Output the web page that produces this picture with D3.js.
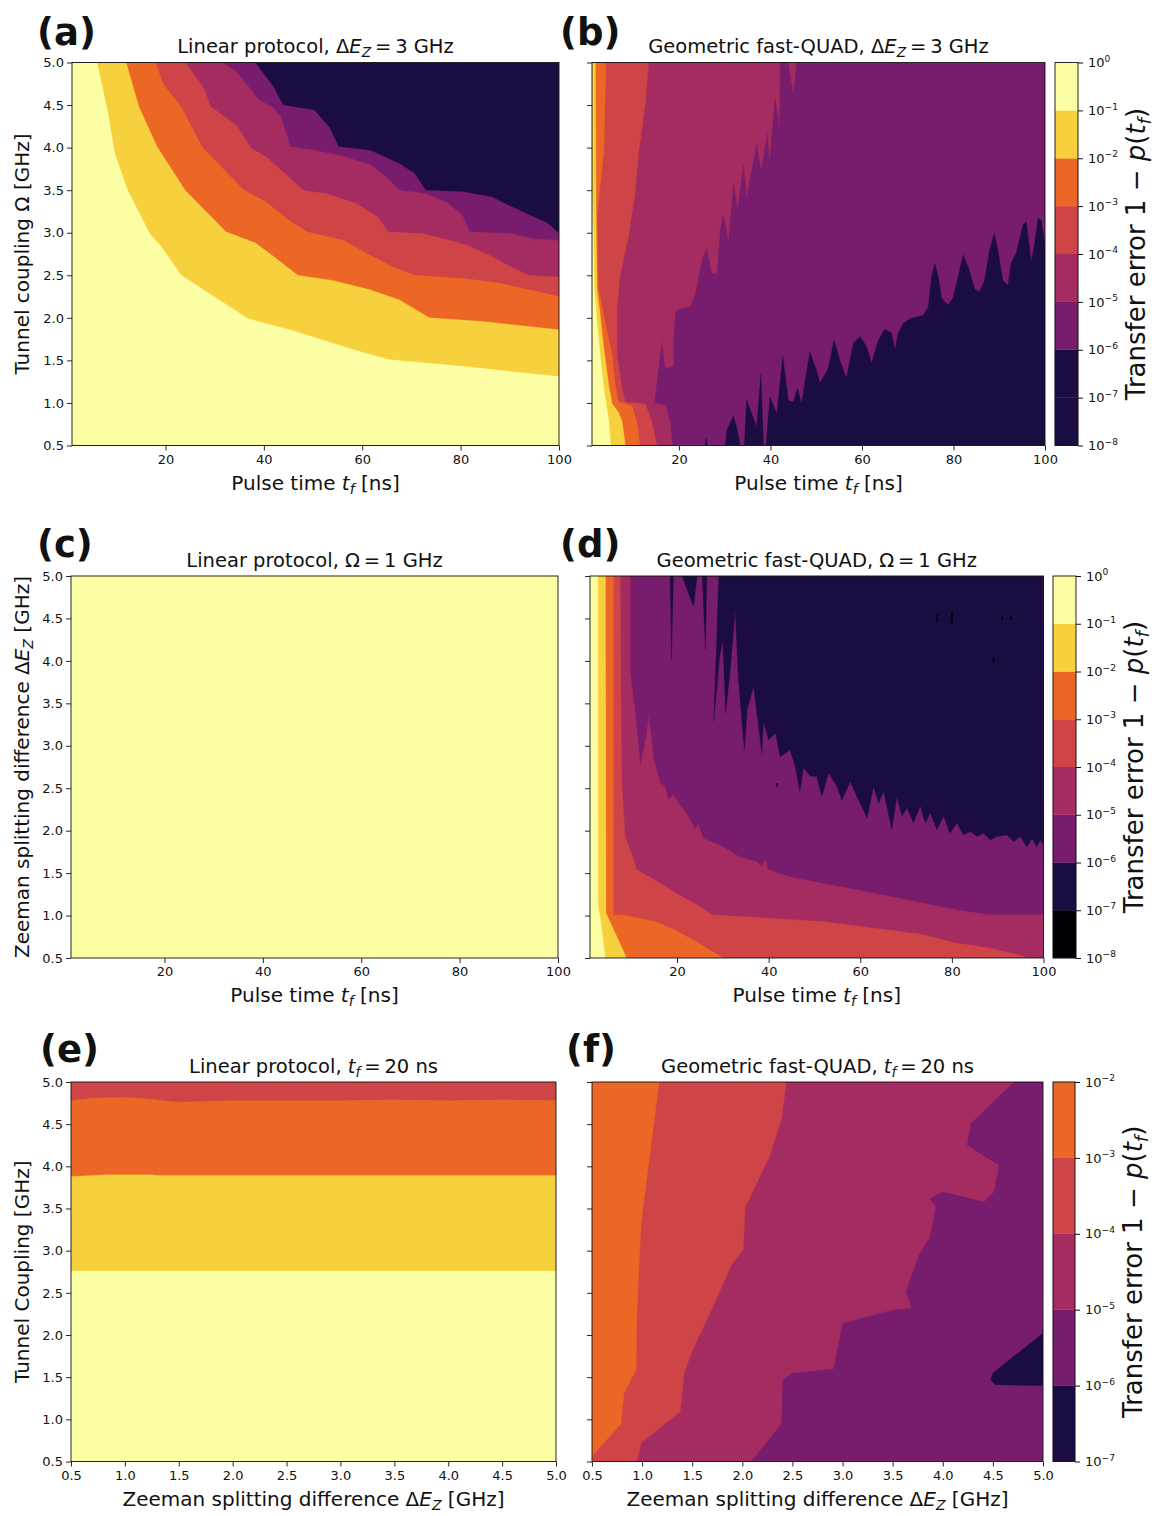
<!DOCTYPE html>
<html>
<head>
<meta charset="utf-8">
<script src="https://cdn.jsdelivr.net/npm/d3@7"></script>
<style>
body { margin: 0; background: #fff; }
text { font-family: "DejaVu Sans", sans-serif; fill: #111; }
</style>
</head>
<body>
<svg id="fig" width="1164" height="1516"></svg>
<script>
// ---- axis values ----
var pulseTicks = [20, 40, 60, 80, 100];
var gridTicks = [0.5, 1.0, 1.5, 2.0, 2.5, 3.0, 3.5, 4.0, 4.5, 5.0];
var decadesAll = [-8, -7, -6, -5, -4, -3, -2, -1, 0];
var decadesF = [-7, -6, -5, -4, -3, -2];

// ---- (a) linear protocol, dEz = 3 GHz : contour boundaries [t_f, Omega] ----
var aLevel1e6 = [[38.3,5.0],[42.0,4.71],[43.9,4.5],[50.3,4.44],[53.3,4.24],[55.2,4.01],[61.6,3.97],[67.6,3.81],[70.6,3.70],[72.9,3.5],[80.4,3.48],[86.4,3.42],[90.2,3.31],[94.7,3.19],[97.7,3.11],[100,2.99]];
var aLevel1e5 = [[31.5,5.0],[34.5,4.89],[39.0,4.56],[41.7,4.48],[43.5,4.36],[45.4,4.01],[50.3,3.97],[56.0,3.9],[61.6,3.8],[65.0,3.65],[67.5,3.5],[72.9,3.46],[77.4,3.35],[80.4,3.2],[81.9,3.01],[90.2,2.99],[94.7,2.93],[100,2.91]];
var aLevel1e4 = [[24.0,5.0],[27.7,4.71],[29.2,4.48],[34.5,4.26],[37.5,3.99],[40.5,3.89],[45.8,3.62],[48.0,3.5],[52.6,3.46],[58.6,3.35],[63.1,3.19],[65.3,3.01],[72.1,2.99],[78.1,2.91],[81.9,2.84],[86.4,2.72],[90.2,2.6],[93.9,2.5],[100,2.48]];
var aLevel1e3 = [[18.0,5.0],[19.5,4.75],[23.2,4.48],[27.4,4.01],[36.0,3.5],[40.5,3.36],[45.0,3.15],[48.8,3.01],[56.3,2.91],[60.8,2.76],[66.1,2.6],[70.6,2.5],[81.1,2.46],[87.9,2.41],[93.9,2.33],[100,2.25]];
var aLevel1e2 = [[12.0,5.0],[14.6,4.48],[18.3,4.01],[24.0,3.5],[32.3,3.01],[38.3,2.88],[42.0,2.72],[46.9,2.5],[54.0,2.44],[61.6,2.33],[67.6,2.21],[73.6,2.0],[84.1,1.96],[100,1.86]];
var aLevel1e1 = [[6.1,5.0],[8.2,4.44],[9.7,3.93],[12.3,3.5],[16.8,2.99],[19.1,2.84],[23.2,2.5],[36.8,1.99],[46.5,1.84],[58.6,1.62],[65.3,1.51],[80.4,1.43],[100,1.31]];

// ---- (b) geometric fast-QUAD, dEz = 3 GHz ----
var bBelow1e6 = [[25.7,0.5],[25.95,0.59],[26.25,0.5],[30.1,0.5],[30.5,0.68],[31.9,0.85],[32.6,0.72],[33.4,0.5],[34.3,0.5],[34.8,1.04],[35.9,0.87],[37.0,0.72],[37.9,1.34],[38.5,0.5],[39.0,0.5],[39.9,1.07],[41.4,0.87],[42.7,1.55],[43.9,1.03],[45.0,1.01],[45.9,1.17],[46.8,0.99],[48.6,1.60],[50.1,1.38],[50.8,1.23],[52.6,1.40],[53.9,1.74],[55.2,1.50],[56.6,1.29],[58.1,1.70],[59.6,1.78],[61.0,1.66],[62.1,1.47],[63.6,1.74],[65.0,1.87],[66.5,1.82],[67.2,1.62],[67.9,1.82],[69.0,1.93],[70.5,1.99],[73.4,2.03],[74.5,2.13],[75.2,2.48],[75.9,2.64],[76.7,2.48],[77.4,2.23],[78.8,2.15],[79.9,2.23],[81.0,2.48],[82.1,2.74],[83.2,2.60],[84.7,2.33],[85.7,2.31],[86.8,2.44],[87.9,2.80],[88.9,2.99],[89.7,2.80],[90.8,2.44],[91.9,2.38],[92.6,2.64],[93.7,2.76],[95.2,3.09],[95.9,3.13],[97.0,2.66],[97.7,2.86],[98.5,3.17],[99.2,3.15],[100,2.82]];
var bLevel1e5 = [[45.7,5.0],[45.0,4.64],[43.9,5.0],[42.1,5.0],[41.96,4.25],[41.0,4.60],[39.8,3.86],[39.3,4.19],[38.0,3.74],[37.0,4.05],[35.9,3.74],[34.8,3.43],[34.1,3.82],[32.8,3.29],[31.9,3.62],[31.55,3.35],[30.8,2.92],[29.7,3.23],[29.0,3.03],[28.3,2.52],[27.2,2.52],[26.1,2.82],[25.0,2.68],[23.6,2.29],[22.5,2.13],[20.3,2.11],[19.2,2.07],[18.8,1.76],[18.8,1.43],[17.0,1.41],[16.3,1.74],[15.4,1.35],[14.8,1.09],[14.6,1.0],[17.0,0.98],[18.1,0.78],[18.6,0.5]];
var bLevel1e4 = [[13.4,5.0],[12.65,4.51],[11.2,3.94],[10.4,3.46],[9.0,2.96],[7.2,2.51],[6.5,2.15],[6.5,1.56],[7.6,1.17],[8.3,1.01],[12.65,0.99],[14.1,0.78],[15.2,0.5]];
var bLevel1e3 = [[4.07,5.0],[3.6,3.95],[2.1,3.21],[2.43,2.35],[3.9,1.95],[5.4,1.56],[6.1,1.21],[6.8,1.01],[9.7,0.97],[10.8,0.78],[11.5,0.5]];
var bLevel1e2 = [[1.74,5.0],[1.9,3.2],[2.1,2.35],[2.8,2.03],[3.6,1.64],[4.65,1.21],[5.4,0.99],[6.8,0.89],[7.6,0.78],[8.3,0.5]];
var bLevel1e1 = [[1.0,3.45],[1.3,3.0],[1.5,2.35],[2.1,1.95],[2.8,1.56],[3.6,1.17],[4.1,0.99],[4.7,0.78],[5.1,0.5]];

// ---- (d) geometric fast-QUAD, Omega = 1 GHz : [t_f, dEz] ----
var dBelow1e6 = [[18.5,5.0],[18.8,4.01],[19.2,5.0],[21.1,5.0],[23.6,4.64],[24.4,5.0],[25.5,5.0],[26.2,4.13],[26.5,5.0],[29.1,5.0],[28.7,4.29],[28.0,3.29],[29.3,4.05],[30.0,4.25],[30.6,3.38],[31.6,3.89],[32.7,4.60],[33.4,3.78],[34.7,2.95],[35.3,3.42],[36.7,3.70],[37.8,3.23],[38.5,2.91],[38.9,3.29],[40.0,3.07],[41.5,3.15],[42.5,2.87],[44.7,2.95],[45.8,2.76],[46.8,2.46],[47.6,2.74],[49.1,2.64],[50.5,2.64],[51.6,2.40],[53.1,2.68],[54.9,2.52],[56.0,2.36],[57.8,2.58],[59.3,2.40],[61.5,2.15],[62.9,2.52],[64.0,2.32],[65.1,2.46],[66.9,2.01],[68.0,2.40],[69.1,2.17],[70.2,2.27],[71.6,2.09],[73.1,2.29],[74.2,2.09],[75.3,2.21],[76.7,2.01],[78.2,2.17],[79.6,1.97],[81.1,2.09],[82.5,1.95],[84.0,1.99],[85.5,1.93],[86.9,1.97],[88.4,1.89],[89.8,1.93],[92.0,1.95],[93.5,1.87],[94.9,1.93],[96.4,1.81],[97.5,1.91],[98.5,1.81],[99.3,1.89],[100,1.83]];
var dBelow1e7 = [[76.7,4.46,4.54],[80.0,4.44,4.58],[89.1,3.98,4.04],[91.0,4.48,4.52],[92.9,4.48,4.52],[41.8,2.52,2.56]];
var dLevel1e5 = [[9.8,5.0],[9.8,3.85],[10.9,3.38],[12.0,2.76],[13.4,3.15],[13.8,3.34],[14.5,3.06],[14.9,2.84],[16.4,2.56],[17.4,2.52],[18.1,2.36],[19.2,2.42],[20.3,2.33],[22.5,2.17],[23.9,2.01],[24.6,2.08],[25.7,1.91],[29.7,1.82],[33.4,1.70],[37.5,1.63],[38.5,1.58],[39.2,1.66],[39.9,1.54],[44.3,1.46],[51.6,1.38],[58.8,1.31],[66.1,1.23],[73.4,1.15],[80.6,1.07],[87.9,1.01],[100,1.01]];
var dLevel1e4 = [[7.6,5.0],[7.9,2.60],[8.65,1.93],[10.1,1.73],[11.2,1.54],[15.2,1.42],[19.6,1.27],[24.6,1.12],[27.6,1.01],[37.0,0.98],[51.6,0.93],[66.1,0.83],[73.4,0.78],[80.6,0.68],[87.9,0.62],[95.2,0.53],[96.5,0.5]];
var dLevel1e3 = [[6.1,5.0],[6.1,1.01],[7.9,1.01],[15.2,0.93],[19.6,0.83],[24.6,0.68],[30.1,0.5]];
var dLevel1e2 = [[4.4,5.0],[4.5,1.03],[9.0,0.5]];
var dLevel1e1 = [[2.7,5.0],[2.75,1.1],[3.3,0.95],[4.35,0.5]];

// ---- (e) linear protocol, t_f = 20 ns : [dEz, Omega] ----
var eLevel1e3 = [[0.5,4.78],[0.7,4.81],[1.0,4.82],[1.2,4.80],[1.5,4.76],[1.7,4.77],[2.0,4.78],[2.5,4.78],[3.0,4.78],[3.5,4.79],[4.0,4.78],[4.5,4.79],[5.0,4.78]];
var eLevel1e2 = [[0.5,3.88],[0.85,3.90],[1.25,3.90],[1.3,3.89],[5.0,3.89]];
var eLevel1e1 = [[0.5,2.76],[5.0,2.76]];

// ---- (f) geometric fast-QUAD, t_f = 20 ns : [dEz, Omega] ----
var fBelow1e6 = [[5.0,2.02],[4.5,1.55],[4.48,1.47],[4.52,1.41],[5.0,1.40]];
var fLevel1e5 = [[2.09,0.5],[2.39,0.95],[2.40,1.47],[2.50,1.55],[2.91,1.60],[3.0,2.14],[3.5,2.30],[3.69,2.32],[3.63,2.51],[3.76,2.95],[3.87,3.16],[3.93,3.52],[3.87,3.62],[4.0,3.70],[4.41,3.58],[4.51,3.70],[4.56,4.01],[4.24,4.25],[4.28,4.51],[4.71,5.0]];
var fLevel1e4 = [[0.95,0.5],[0.99,0.72],[1.38,1.09],[1.42,1.55],[1.49,1.78],[1.72,2.37],[1.90,2.85],[2.01,3.01],[2.03,3.52],[2.27,4.11],[2.39,4.55],[2.44,5.0]];
var fLevel1e3 = [[0.5,0.56],[0.79,0.95],[0.82,1.31],[0.94,1.59],[0.95,2.30],[0.99,3.32],[1.07,4.07],[1.17,5.0]];

// ---- colours (inferno steps) ----
var col = { black: "#000004", navy: "#1b0c41", purple: "#781c6d", magenta: "#a52c60",
            red: "#cf4446", orange: "#ec6726", yellow: "#f7d13d", pale: "#fbfea3" };

var svg = d3.select("#fig");
var tickFont = 13, labelFont = 20, titleFont = 19.5;
var EQ = "\u2009=\u2009";

// writes rich text: parts = [text, flags] ; flags: i = italic, s = subscript, p = superscript
function mathText(sel, parts, fs) {
    var shift = 0;
    parts.forEach(function(p) {
        var f = p[1] || "";
        var ts = sel.append("tspan").text(p[0]);
        var target = f.indexOf("s") >= 0 ? 0.22 * fs : (f.indexOf("p") >= 0 ? -0.42 * fs : 0);
        if (target !== shift) { ts.attr("dy", target - shift); shift = target; }
        if (f.indexOf("i") >= 0) ts.attr("font-style", "italic");
        if (target !== 0) ts.attr("font-size", 0.7 * fs);
    });
}

// closes a boundary into a region polygon using the plot border
function closeRegion(pts, side, xd, yd) {
    var out = pts.slice(), first = pts[0], last = pts[pts.length - 1];
    if (side === "lr") out.push([xd[1], yd[0]]);
    else if (side === "ur") out.push([xd[1], yd[1]]);
    else if (side === "ll") {
        if (last[0] >= xd[1]) out.push([xd[1], yd[0]]);
        if (last[1] >= yd[1]) { out.push([xd[0], yd[1]], [xd[0], yd[0]]); }
        else { out.push([xd[0], yd[0]]); if (first[1] >= yd[1]) out.push([xd[0], yd[1]]); }
    }
    return out;
}

var clipId = 0;
function panel(o) {
    var g = svg.append("g");
    var x = d3.scaleLinear().domain(o.xd).range([o.x0, o.x1]);
    var y = d3.scaleLinear().domain(o.yd).range([o.y1, o.y0]);
    var id = "clip" + (clipId++);
    g.append("clipPath").attr("id", id).append("rect")
        .attr("x", o.x0).attr("y", o.y0).attr("width", o.x1 - o.x0).attr("height", o.y1 - o.y0);
    var plot = g.append("g").attr("clip-path", "url(#" + id + ")");
    plot.append("rect")
        .attr("x", x(o.xd[0])).attr("y", y(o.yd[1]))
        .attr("width", x(o.xd[1]) - x(o.xd[0])).attr("height", y(o.yd[0]) - y(o.yd[1]))
        .attr("fill", o.base);
    var line = d3.line().x(function(d) { return x(d[0]); }).y(function(d) { return y(d[1]); });
    o.layers.forEach(function(L) {
        plot.append("path")
            .attr("d", line(closeRegion(L.pts, L.side, o.xd, o.yd)) + "Z")
            .attr("fill", L.color)
            .attr("stroke", L.color).attr("stroke-width", 0.3);
    });
    if (o.specks) {
        o.specks.forEach(function(s) {
            plot.append("line")
                .attr("x1", x(s[0])).attr("x2", x(s[0]))
                .attr("y1", y(s[1])).attr("y2", y(s[2]))
                .attr("stroke", col.black).attr("stroke-width", 1.6);
        });
    }

    // axes
    var xa = g.append("g").attr("transform", "translate(0," + o.y1 + ")")
        .call(d3.axisBottom(x).tickValues(o.xTicks).tickSize(5).tickPadding(4).tickFormat(d3.format(o.xFmt)));
    var ya = g.append("g").attr("transform", "translate(" + o.x0 + ",0)")
        .call(d3.axisLeft(y).tickValues(gridTicks).tickSize(5).tickPadding(3)
            .tickFormat(o.yLabels ? d3.format(".1f") : function() { return ""; }));
    [xa, ya].forEach(function(a) {
        a.select(".domain").remove();
        a.attr("font-size", tickFont).attr("font-family", "DejaVu Sans").attr("color", "#111");
        a.selectAll(".tick line").attr("stroke-width", 0.9);
    });
    g.append("rect")
        .attr("x", o.x0).attr("y", o.y0).attr("width", o.x1 - o.x0).attr("height", o.y1 - o.y0)
        .attr("fill", "none").attr("stroke", "#111").attr("stroke-width", 0.9);

    // texts
    var t = g.append("text").attr("x", (o.x0 + o.x1) / 2).attr("y", o.y0 - 9.5)
        .attr("text-anchor", "middle").attr("font-size", titleFont);
    mathText(t, o.title, titleFont);
    var xl = g.append("text").attr("x", (o.x0 + o.x1) / 2).attr("y", o.y1 + 44)
        .attr("text-anchor", "middle").attr("font-size", labelFont);
    mathText(xl, o.xLabel, labelFont);
    if (o.yLabel) {
        var yl = g.append("text")
            .attr("transform", "translate(29," + ((o.y0 + o.y1) / 2) + ") rotate(-90)")
            .attr("text-anchor", "middle").attr("font-size", labelFont);
        mathText(yl, o.yLabel, labelFont);
    }
    g.append("text").attr("x", o.tagX).attr("y", o.tagY)
        .attr("font-size", 37).attr("font-weight", "bold").attr("fill", "#000")
        .text(o.tag);
}

function colorbar(o) {
    var g = svg.append("g");
    var s = d3.scaleLinear().domain([o.levels[0], o.levels[o.levels.length - 1]]).range([o.y1, o.y0]);
    o.colors.forEach(function(c, i) {
        g.append("rect")
            .attr("x", o.x0).attr("width", o.x1 - o.x0)
            .attr("y", s(o.levels[i + 1])).attr("height", s(o.levels[i]) - s(o.levels[i + 1]))
            .attr("fill", c).attr("stroke", c).attr("stroke-width", 0.3);
    });
    g.append("rect")
        .attr("x", o.x0).attr("y", o.y0).attr("width", o.x1 - o.x0).attr("height", o.y1 - o.y0)
        .attr("fill", "none").attr("stroke", "#111").attr("stroke-width", 0.9);
    var ax = g.append("g").attr("transform", "translate(" + o.x1 + ",0)")
        .call(d3.axisRight(s).tickValues(o.levels).tickSize(5).tickPadding(5).tickFormat(function() { return ""; }));
    ax.select(".domain").remove();
    ax.attr("font-size", tickFont).attr("font-family", "DejaVu Sans").attr("color", "#111");
    ax.selectAll(".tick text").each(function(d) {
        var el = d3.select(this);
        mathText(el, [["10"], [d === 0 ? "0" : "\u2212" + (-d), "p"]], tickFont);
    });
    var lab = g.append("text")
        .attr("transform", "translate(" + (o.x1 + 67) + "," + ((o.y0 + o.y1) / 2) + ") rotate(-90)")
        .attr("text-anchor", "middle").attr("font-size", 26);
    mathText(lab, [["Transfer error 1 \u2212 "], ["p", "i"], ["("], ["t", "i"], ["f", "is"], [")"]], 26);
}

var pulseLabel = [["Pulse time "], ["t", "i"], ["f", "is"], [" [ns]"]];
var zeemanLabel = [["Zeeman splitting difference \u0394"], ["E", "i"], ["Z", "is"], [" [GHz]"]];

// (a)
panel({ x0: 72, x1: 559, y0: 62.5, y1: 445.5, xd: [1, 100], yd: [0.5, 5.0],
    xTicks: pulseTicks, xFmt: "d", yLabels: true, base: col.navy,
    layers: [
        { pts: aLevel1e6, side: "ll", color: col.purple },
        { pts: aLevel1e5, side: "ll", color: col.magenta },
        { pts: aLevel1e4, side: "ll", color: col.red },
        { pts: aLevel1e3, side: "ll", color: col.orange },
        { pts: aLevel1e2, side: "ll", color: col.yellow },
        { pts: aLevel1e1, side: "ll", color: col.pale }],
    title: [["Linear protocol, \u0394"], ["E", "i"], ["Z", "is"], [EQ + "3 GHz"]],
    xLabel: pulseLabel, yLabel: [["Tunnel coupling \u03a9 [GHz]"]],
    tag: "(a)", tagX: 37, tagY: 45 });

// (b)
panel({ x0: 592, x1: 1045, y0: 62.5, y1: 445.5, xd: [1, 100], yd: [0.5, 5.0],
    xTicks: pulseTicks, xFmt: "d", yLabels: false, base: col.purple,
    layers: [
        { pts: bBelow1e6, side: "lr", color: col.navy },
        { pts: bLevel1e5, side: "ll", color: col.magenta },
        { pts: bLevel1e4, side: "ll", color: col.red },
        { pts: bLevel1e3, side: "ll", color: col.orange },
        { pts: bLevel1e2, side: "ll", color: col.yellow },
        { pts: bLevel1e1, side: "ll", color: col.pale }],
    title: [["Geometric fast-QUAD, \u0394"], ["E", "i"], ["Z", "is"], [EQ + "3 GHz"]],
    xLabel: pulseLabel, tag: "(b)", tagX: 560, tagY: 45 });
colorbar({ x0: 1055, x1: 1078, y0: 62.5, y1: 445.5, levels: decadesAll,
    colors: [col.navy, col.navy, col.purple, col.magenta, col.red, col.orange, col.yellow, col.pale] });

// (c)
panel({ x0: 71, x1: 558, y0: 576, y1: 958, xd: [1, 100], yd: [0.5, 5.0],
    xTicks: pulseTicks, xFmt: "d", yLabels: true, base: col.pale, layers: [],
    title: [["Linear protocol, \u03a9" + EQ + "1 GHz"]],
    xLabel: pulseLabel, yLabel: zeemanLabel, tag: "(c)", tagX: 37, tagY: 557 });

// (d)
panel({ x0: 590, x1: 1043.5, y0: 576, y1: 958, xd: [1, 100], yd: [0.5, 5.0],
    xTicks: pulseTicks, xFmt: "d", yLabels: false, base: col.purple,
    layers: [
        { pts: dBelow1e6, side: "ur", color: col.navy },
        { pts: dLevel1e5, side: "ll", color: col.magenta },
        { pts: dLevel1e4, side: "ll", color: col.red },
        { pts: dLevel1e3, side: "ll", color: col.orange },
        { pts: dLevel1e2, side: "ll", color: col.yellow },
        { pts: dLevel1e1, side: "ll", color: col.pale }],
    specks: dBelow1e7,
    title: [["Geometric fast-QUAD, \u03a9" + EQ + "1 GHz"]],
    xLabel: pulseLabel, tag: "(d)", tagX: 560, tagY: 557 });
colorbar({ x0: 1053, x1: 1076, y0: 576, y1: 958, levels: decadesAll,
    colors: [col.black, col.navy, col.purple, col.magenta, col.red, col.orange, col.yellow, col.pale] });

// (e)
panel({ x0: 71, x1: 556, y0: 1082, y1: 1461.5, xd: [0.5, 5.0], yd: [0.5, 5.0],
    xTicks: gridTicks, xFmt: ".1f", yLabels: true, base: col.red,
    layers: [
        { pts: eLevel1e3, side: "ll", color: col.orange },
        { pts: eLevel1e2, side: "ll", color: col.yellow },
        { pts: eLevel1e1, side: "ll", color: col.pale }],
    title: [["Linear protocol, "], ["t", "i"], ["f", "is"], [EQ + "20 ns"]],
    xLabel: zeemanLabel, yLabel: [["Tunnel Coupling [GHz]"]],
    tag: "(e)", tagX: 40, tagY: 1062 });

// (f)
panel({ x0: 592, x1: 1043, y0: 1082, y1: 1461.5, xd: [0.5, 5.0], yd: [0.5, 5.0],
    xTicks: gridTicks, xFmt: ".1f", yLabels: false, base: col.purple,
    layers: [
        { pts: fBelow1e6, side: "none", color: col.navy },
        { pts: fLevel1e5, side: "ll", color: col.magenta },
        { pts: fLevel1e4, side: "ll", color: col.red },
        { pts: fLevel1e3, side: "ll", color: col.orange }],
    title: [["Geometric fast-QUAD, "], ["t", "i"], ["f", "is"], [EQ + "20 ns"]],
    xLabel: zeemanLabel, tag: "(f)", tagX: 566, tagY: 1062 });
colorbar({ x0: 1053, x1: 1075, y0: 1082, y1: 1461.5, levels: decadesF,
    colors: [col.navy, col.purple, col.magenta, col.red, col.orange] });
</script>
</body>
</html>
